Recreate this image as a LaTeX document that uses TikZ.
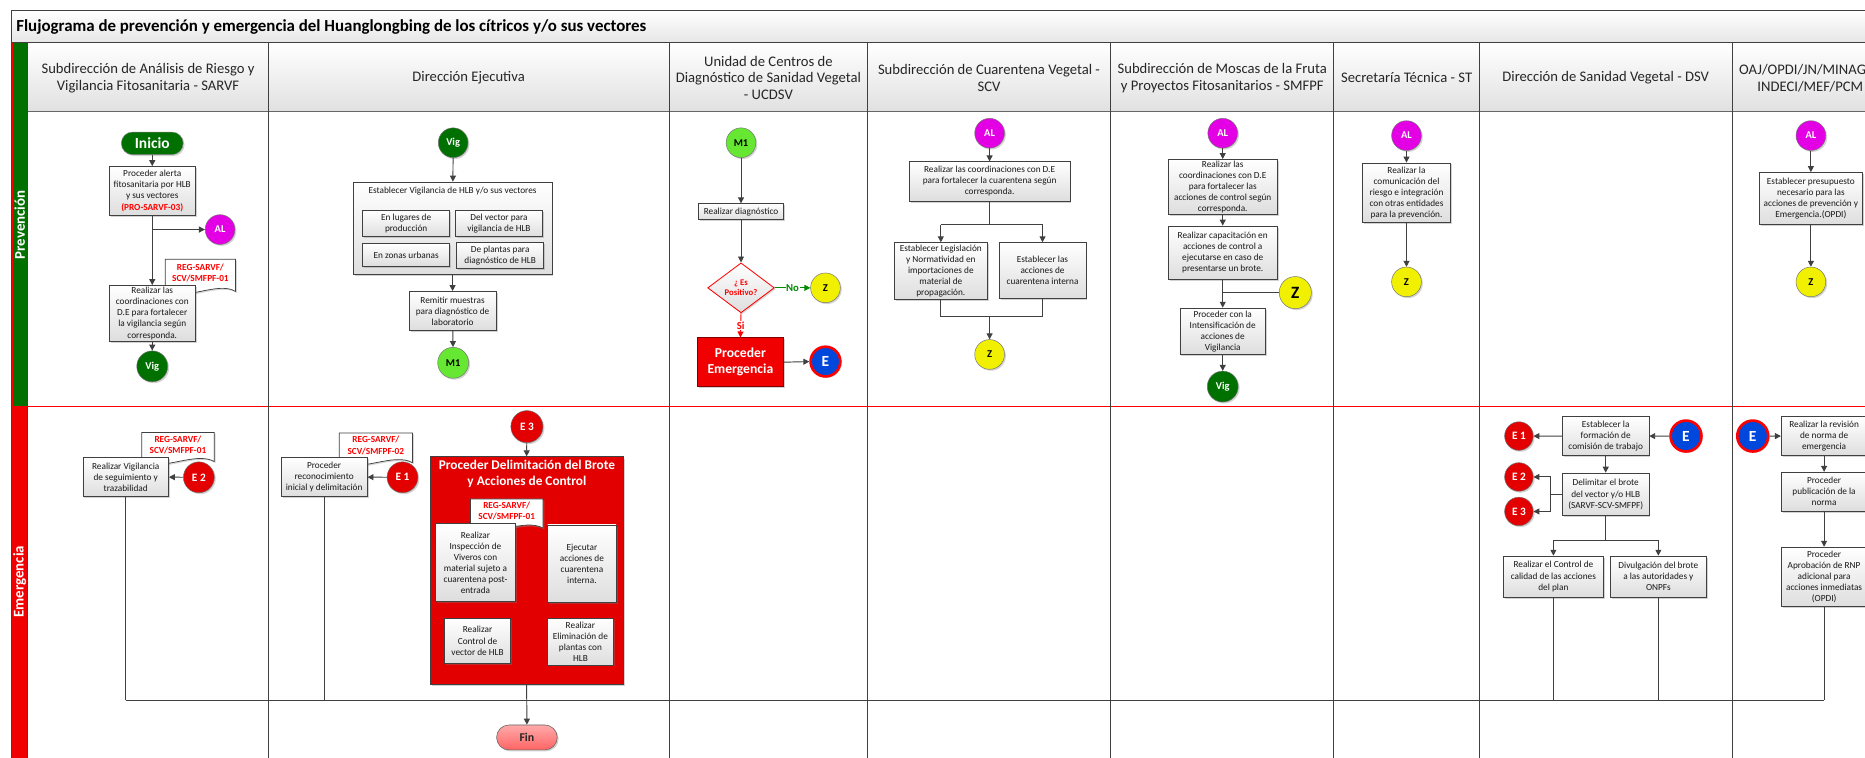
\documentclass[tikz,border=0pt]{standalone}
\usepackage{fontspec}
\setmainfont{Carlito}
\usetikzlibrary{arrows.meta,shapes.geometric,shadows,calc}
\definecolor{lineg}{RGB}{64,64,64}
\definecolor{dkgreen}{RGB}{0,112,0}
\definecolor{magAL}{RGB}{228,0,228}
\definecolor{ltgreen}{RGB}{102,232,50}
\definecolor{yelZ}{RGB}{240,240,0}
\definecolor{redE}{RGB}{226,0,0}
\definecolor{blueE}{RGB}{0,72,220}
\definecolor{txtred}{RGB}{255,0,0}
\definecolor{bandred}{RGB}{240,0,0}
\definecolor{nogreen}{RGB}{0,140,0}
\definecolor{finpink}{RGB}{255,100,100}
\newcommand{\docshp}[6]{%
  \pgfmathsetmacro{\dl}{#2-#4/2}\pgfmathsetmacro{\dr}{#2+#4/2}%
  \pgfmathsetmacro{\dt}{#3-#5/2}\pgfmathsetmacro{\db}{#3+#5/2}%
  \pgfmathsetmacro{\dqa}{#2+#4/4}\pgfmathsetmacro{\dqb}{#2-#4/4}%
  \pgfmathsetmacro{\dbu}{#3+#5/2-9}\pgfmathsetmacro{\dbd}{#3+#5/2+9}%
  \path[docpath] (\dl,\dt) -- (\dr,\dt) -- (\dr,\db) .. controls (\dqa,\dbu) and (\dqb,\dbd) .. (\dl,\db) -- cycle;
  \node[doctext] (#1) at (#2,#3-2) {#6};
}
\tikzset{
  base/.style={font=\fontsize{7.8}{9.3}\selectfont, text=black!90, align=center, inner sep=1pt},
  procbox/.style={base, draw=lineg, line width=0.6pt, top color=white, bottom color=black!13,
    drop shadow={shadow xshift=1.3pt, shadow yshift=-1.3pt, opacity=0.35}},
  pb/.style 2 args={procbox, minimum width=#1, minimum height=#2},
  conn/.style={draw=lineg, line width=0.8pt},
  arr/.style={conn, -{Triangle[length=5pt,width=5pt]}},
  circ/.style={circle, draw=black!55, line width=0.4pt, minimum size=25pt, inner sep=0pt,
    font=\fontsize{8.8}{9}\selectfont\bfseries,
    drop shadow={shadow xshift=1.2pt, shadow yshift=-1.2pt, opacity=0.35}},
  ALc/.style={circ, fill=magAL, text=white},
  Zc/.style={circ, fill=yelZ, text=black},
  Vigc/.style={circ, fill=dkgreen, text=white},
  M1c/.style={circ, fill=ltgreen, text=black},
  Ered/.style={circ, fill=redE, text=white, minimum size=26pt, font=\fontsize{9.5}{10}\selectfont\bfseries},
  Eblue/.style={circ, fill=blueE, draw=red, line width=2.2pt, text=white, minimum size=25pt,
    font=\fontsize{13}{13}\selectfont\bfseries},
  hdr/.style={font=\fontsize{12.3}{14}\selectfont, align=center, text=black!85},
  doctext/.style={font=\fontsize{7.8}{9.3}\selectfont\bfseries, text=txtred, align=center, inner sep=0pt},
  docpath/.style={draw=lineg, line width=0.6pt, fill=white,
    preaction={fill=black!40, opacity=0.4, transform canvas={xshift=1.2pt, yshift=-1.2pt}}},
}
\begin{document}
\begin{tikzpicture}[x=1pt,y=-1pt]
\useasboundingbox (0,0) rectangle (1568,637);
\fill[white] (0,0) rectangle (1568,637);
% title bar and header
\shade[top color=white,bottom color=black!10] (9.5,9) rectangle (1580,36);
\shade[top color=white,bottom color=black!12] (23.5,36) rectangle (1580,94);
\node[anchor=west, inner sep=0pt, font=\fontsize{14.2}{16}\selectfont\bfseries, text=black] (title) at (13.5,22.5)
  {Flujograma de prevención y emergencia del Huanglongbing de los cítricos y/o sus vectores};
% phase bands
\fill[dkgreen] (9.5,36) rectangle (23.5,341.7);
\fill[bandred] (9.5,341.7) rectangle (23.5,650);
\draw[red, line width=0.5pt] (10,36) -- (10,341.7) (23,36) -- (23,341.7);
\node[rotate=90, font=\fontsize{12.5}{14}\selectfont\bfseries, text=white] (ph1) at (16.5,189) {Prevención};
\node[rotate=90, font=\fontsize{12.5}{14}\selectfont\bfseries, text=white] (ph2) at (16.5,489) {Emergencia};
% grid
\draw[lineg, line width=0.8pt] (9.5,9) rectangle (1590,660);
\draw[lineg, line width=0.8pt] (9.5,36) -- (1590,36);
\draw[black!60, line width=0.7pt] (23.5,94) -- (1590,94);
\draw[red, line width=0.9pt] (23.5,341.7) -- (1590,341.7);
\foreach \x in {23.5,225.5,562.5,729.2,933.8,1121.4,1243.8,1456.4}
  \draw[lineg, line width=0.8pt] (\x,36) -- (\x,660);
% headers
\node[hdr] (h1) at (124.5,65.5) {Subdirección de Análisis de Riesgo y\\Vigilancia Fitosanitaria -  SARVF};
\node[hdr] (h2) at (394,65.5) {Dirección Ejecutiva};
\node[hdr] (h3) at (646,65.5) {Unidad de Centros de\\Diagnóstico de Sanidad Vegetal\\- UCDSV};
\node[hdr] (h4) at (831.5,65.5) {Subdirección de Cuarentena Vegetal -\\SCV};
\node[hdr] (h5) at (1027.6,65.5) {Subdirección de Moscas de la Fruta\\y Proyectos Fitosanitarios - SMFPF};
\node[hdr] (h6) at (1182.6,65.5) {Secretaría Técnica - ST};
\node[hdr] (h7) at (1350,65.5) {Dirección de Sanidad Vegetal - DSV};
\node[hdr, anchor=west, inner sep=0pt] (h8a) at (1462,58.5) {OAJ/OPDI/JN/MINAG};
\node[hdr, inner sep=0pt] (h8b) at (1522,72.5) {INDECI/MEF/PCM};

% ===== Prevencion: SARVF =====
\node[rectangle, rounded corners=9.5pt, fill=dkgreen, draw=black!50, line width=0.4pt, minimum width=52, minimum height=19,
  text=white, font=\fontsize{13}{14}\selectfont\bfseries, inner sep=0pt,
  drop shadow={shadow xshift=1.2pt, shadow yshift=-1.2pt, opacity=0.35}] (inicio) at (128,120.5) {Inicio};
\node[pb={72}{41}] (b1) at (128,160.5) {Proceder  alerta\\fitosanitaria por HLB\\y sus vectores\\{\color{txtred}\bfseries(PRO-SARVF-03)}};
\node[ALc] (al1) at (185,193) {AL};
\coordinate (br1) at (128,193);
\docshp{doc1}{168.5}{231.5}{59}{27}{REG-SARVF/\\SCV/SMFPF-01}
\node[pb={72}{47}] (b2) at (128,263.5) {Realizar las\\coordinaciones con\\D.E para fortalecer\\la  vigilancia según\\corresponda.};
\node[Vigc, minimum size=26pt] (vig1) at (128,308) {Vig};
\draw[arr] (inicio) -- (b1);
\draw[arr] (b1) -- (b2);
\draw[arr] (br1) -- (al1);
\draw[arr] (b2) -- (vig1);

% ===== Direccion Ejecutiva =====
\node[Vigc] (vig2) at (381,120) {Vig};
\node[procbox, minimum width=167, minimum height=78] (big) at (380.5,192) {};
\node[base] (bigT) at (380.5,161) {Establecer Vigilancia de HLB y/o sus vectores};
\node[pb={73}{22}] (s1) at (341.5,188) {En lugares de\\producción};
\node[pb={73}{22}] (s2) at (419.5,188) {Del vector para\\vigilancia de HLB};
\node[pb={73}{19}] (s3) at (341.5,214.5) {En zonas urbanas};
\node[pb={73}{22}] (s4) at (420.5,215) {De plantas  para\\diagnóstico de HLB};
\node[pb={73}{33}] (rem) at (380.5,261.5) {Remitir muestras\\para diagnóstico de\\laboratorio};
\node[M1c, minimum size=26pt] (m1a) at (381,305) {M1};
\draw[arr] (vig2) -- (big);
\draw[arr] (big) -- (rem);
\draw[arr] (rem) -- (m1a);

% ===== UCDSV =====
\node[M1c] (m1b) at (623,120) {M1};
\node[pb={72}{13.5}] (diag) at (623,178) {Realizar diagnóstico};
\node[diamond, draw=red, line width=0.7pt, top color=white, bottom color=black!13, minimum width=56pt, minimum height=42pt,
  inner sep=-2pt, aspect=1.4, text=txtred, font=\fontsize{7.3}{8.6}\selectfont\bfseries, align=center,
  drop shadow={shadow xshift=1.2pt, shadow yshift=-1.2pt, opacity=0.3}] (dia) at (623,242) {¿ Es\\Positivo?};
\node[Zc] (zP) at (694,242) {Z};
\node[rectangle, fill=bandred, draw=red!50!black, line width=0.6pt, minimum width=73, minimum height=41, align=center,
  text=white, font=\fontsize{11.5}{13.5}\selectfont\bfseries, inner sep=1pt,
  drop shadow={shadow xshift=1.3pt, shadow yshift=-1.3pt, opacity=0.35}] (emerg) at (622.5,304.5) {Proceder\\Emergencia};
\node[Eblue] (eb1) at (694,304) {E};
\draw[arr] (m1b) -- (diag);
\draw[arr] (diag) -- (dia);
\draw[arr, draw=nogreen] (dia.east) -- node[fill=white, inner sep=0.5pt, text=nogreen, font=\fontsize{9}{10}\selectfont\bfseries] (nolab) {No} (zP.west);
\draw[arr, draw=red] (dia.south) -- node[fill=white, inner sep=0.5pt, text=txtred, font=\fontsize{9}{10}\selectfont\bfseries] (silab) {Si} (emerg.north);
\draw[arr] (emerg.east) -- (eb1.west);

% ===== SCV =====
\node[ALc] (al4) at (832,112) {AL};
\node[pb={135}{33}] (c4a) at (832,152.5) {Realizar las coordinaciones con D.E\\para fortalecer la  cuarentena según\\corresponda.};
\node[pb={78}{48}] (c4b) at (791,228) {Establecer Legislación\\y Normatividad en\\importaciones  de\\material de\\propagación.};
\node[pb={73}{47}] (c4c) at (876.5,227.5) {Establecer las\\acciones de\\cuarentena interna};
\node[Zc] (z4) at (832,298) {Z};
\coordinate (k4) at (832,189);
\coordinate (k4l) at (791,189);
\coordinate (k4r) at (876.5,189);
\coordinate (j4) at (832,266);
\coordinate (j4l) at (791,266);
\coordinate (j4r) at (876.5,266);
\draw[arr] (al4) -- (c4a);
\draw[conn] (c4a.south) -- (k4);
\draw[conn] (k4l) -- (k4r);
\draw[arr] (k4l) -- (c4b.north);
\draw[arr] (k4r) -- (c4c.north);
\draw[conn] (c4b.south) -- (j4l) -- (j4r) -- (c4c.south);
\draw[arr] (j4) -- (z4);

% ===== SMFPF =====
\node[ALc] (al5) at (1028,112) {AL};
\node[pb={92}{46}] (c5a) at (1028,157) {Realizar las\\coordinaciones con D.E\\para fortalecer las\\acciones de control según\\corresponda.};
\node[pb={92}{45}] (c5b) at (1028,212.5) {Realizar capacitación en\\acciones de control a\\ejecutarse en caso de\\presentarse un brote.};
\node[Zc, minimum size=27pt, font=\fontsize{14.5}{15}\selectfont\bfseries] (z5) at (1089,246) {Z};
\coordinate (j5) at (1028,246);
\node[pb={72}{39}] (c5c) at (1028,278.5) {Proceder con la\\Intensificación de\\acciones de\\Vigilancia};
\node[Vigc, minimum size=26pt] (vig5) at (1028,325) {Vig};
\draw[arr] (al5) -- (c5a);
\draw[arr] (c5a) -- (c5b);
\draw[arr] (c5b) -- (c5c);
\draw[conn] (z5.west) -- (j5);
\draw[arr] (c5c) -- (vig5);

% ===== ST =====
\node[ALc] (al6) at (1182.5,114) {AL};
\node[pb={74}{50}] (c6) at (1182.5,162) {Realizar la\\comunicación del\\riesgo e integración\\con otras entidades\\para la prevención.};
\node[Zc] (z6) at (1182.5,237) {Z};
\draw[arr] (al6) -- (c6);
\draw[arr] (c6) -- (z6);

% ===== OAJ =====
\node[ALc] (al8) at (1522.5,114) {AL};
\node[pb={87}{44}] (c8) at (1522.5,167) {Establecer presupuesto\\necesario para las\\acciones de prevención y\\Emergencia.(OPDI)};
\node[Zc] (z8) at (1522.5,237) {Z};
\draw[arr] (al8) -- (c8);
\draw[arr] (c8) -- (z8);

% ===== Emergencia: SARVF =====
\docshp{doce1}{149.6}{375.8}{61}{24.5}{REG-SARVF/\\SCV/SMFPF-01}
\node[pb={72}{33}] (e1box) at (105.7,401) {Realizar Vigilancia\\de seguimiento y\\trazabilidad};
\node[Ered] (e2a) at (167.2,401.3) {E 2};
\draw[arr] (e2a) -- (e1box);

% ===== Emergencia: DE =====
\docshp{doce2}{316}{376.5}{61.5}{25}{REG-SARVF/\\SCV/SMFPF-02}
\node[pb={72.4}{33}] (e2box) at (272.5,401) {Proceder\\reconocimiento\\inicial y delimitación};
\node[Ered] (e1a) at (338.4,401.3) {E 1};
\draw[arr] (e1a) -- (e2box);
\node[Ered, minimum size=27pt] (e3a) at (443,358.7) {E 3};
\node[rectangle, fill=redE, draw=lineg, line width=0.6pt, minimum width=162.5, minimum height=191,
  drop shadow={shadow xshift=1.5pt, shadow yshift=-1.5pt, opacity=0.35}] (grp) at (442.75,479.5) {};
\node[font=\fontsize{11.2}{13.3}\selectfont\bfseries, text=white, align=center, inner sep=0pt] (grpT) at (443,398.5)
  {Proceder Delimitación del Brote\\y Acciones de Control};
\docshp{docg}{426}{431.75}{61}{24.5}{REG-SARVF/\\SCV/SMFPF-01}
\node[pb={67.5}{66}] (g1) at (399.75,473) {Realizar\\Inspección de\\Viveros con\\material sujeto a\\cuarentena post-\\entrada};
\node[pb={57.5}{65.3}] (g2) at (489.25,474) {Ejecutar\\acciones de\\cuarentena\\interna.};
\node[pb={55}{38.4}] (g3) at (401.5,538.8) {Realizar\\Control de\\vector de HLB};
\node[pb={56}{39}] (g4) at (488,539.5) {Realizar\\Eliminación de\\plantas con\\HLB};
\draw[arr] (e3a) -- (grp.north);
\node[rectangle, rounded corners=10.5pt, top color=finpink!55!white, bottom color=finpink, draw=black!60, line width=0.5pt,
  minimum width=51, minimum height=21, inner sep=0pt, font=\fontsize{10}{11}\selectfont\bfseries, text=black!85,
  drop shadow={shadow xshift=1.2pt, shadow yshift=-1.2pt, opacity=0.35}] (fin) at (443,620) {Fin};

% ===== Emergencia: DSV =====
\node[pb={72.6}{32.7}] (d1) at (1350,366.7) {Establecer la\\formación de\\comisión  de trabajo};
\node[Eblue, minimum size=26pt] (eb2) at (1417.5,366.6) {E};
\node[Ered, minimum size=24pt] (e1b) at (1277,366.6) {E 1};
\node[pb={72.6}{36}] (d2) at (1350,415.7) {Delimitar el brote\\del vector y/o HLB\\(SARVF-SCV-SMFPF)};
\node[Ered, minimum size=24pt] (e2b) at (1277,401) {E 2};
\node[Ered, minimum size=24pt] (e3b) at (1277,430) {E 3};
\node[pb={84}{34.5}] (d3) at (1306,484.75) {Realizar el Control de\\calidad de las acciones\\del plan};
\node[pb={81.3}{34.5}] (d4) at (1394.25,484.75) {Divulgación del brote\\a las autoridades y\\ONPFs};
\coordinate (q1) at (1303.7,415.7);
\coordinate (q2) at (1303.7,401);
\coordinate (q3) at (1303.7,430);
\coordinate (r0) at (1350,454);
\coordinate (r1) at (1306,454);
\coordinate (r2) at (1394.25,454);
\draw[arr] (eb2) -- (d1);
\draw[arr] (d1) -- (e1b);
\draw[arr] (d1) -- (d2);
\draw[conn] (d2.west) -- (q1);
\draw[conn] (q2) -- (q3);
\draw[arr] (q2) -- (e2b.east);
\draw[arr] (q3) -- (e3b.east);
\draw[conn] (d2.south) -- (r0);
\draw[conn] (r1) -- (r2);
\draw[arr] (r1) -- (d3.north);
\draw[arr] (r2) -- (d4.north);

% ===== Emergencia: OAJ =====
\node[Eblue, minimum size=26pt] (eb3) at (1473.6,366.6) {E};
\node[pb={72}{32.7}] (o1) at (1533.6,366.7) {Realizar la revisión\\de norma de\\emergencia};
\node[pb={72}{32.6}] (o2) at (1533.6,413.3) {Proceder\\publicación de la\\norma};
\node[pb={72}{50}] (o3) at (1533.6,485) {Proceder\\Aprobación de RNP\\adicional para\\acciones inmediatas\\(OPDI)};
\draw[arr] (eb3) -- (o1);
\draw[arr] (o1) -- (o2);
\draw[arr] (o2) -- (o3);

% ===== merge to Fin =====
\coordinate (mL) at (105.7,588.5);
\coordinate (mR) at (1533.6,588.5);
\draw[conn] (mL) -- (mR);
\draw[conn] (e1box.south) -- (mL);
\draw[conn] (e2box.south) -- (e2box.south |- mL);
\draw[conn] (d3.south) -- (d3.south |- mL);
\draw[conn] (d4.south) -- (d4.south |- mL);
\draw[conn] (o3.south) -- (mR);
\draw[arr] (grp.south) -- (fin.north);
\end{tikzpicture}
\end{document}
